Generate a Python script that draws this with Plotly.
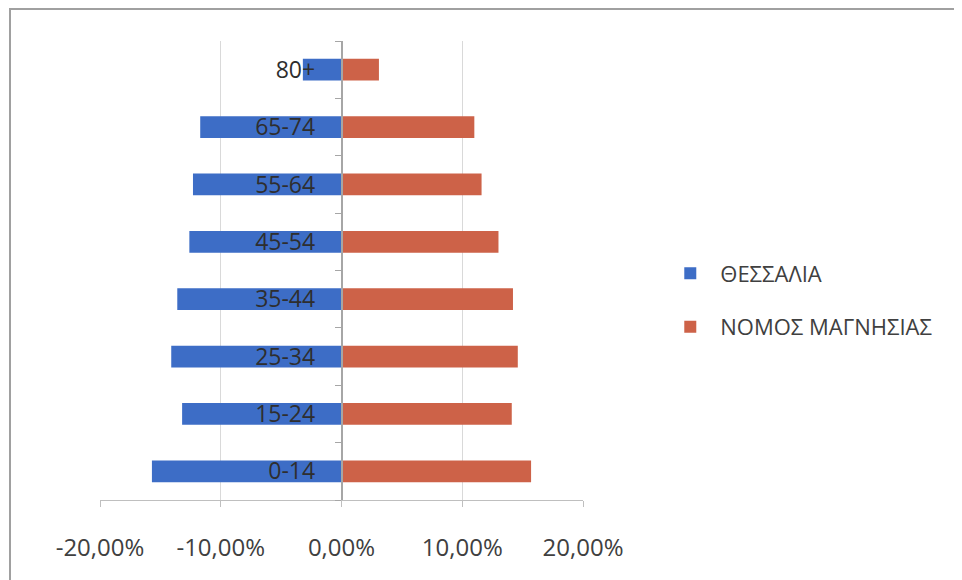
import plotly.graph_objects as go

categories = ["0-14", "15-24", "25-34", "35-44", "45-54", "55-64", "65-74", "80+"]
thessalia = [-0.157, -0.132, -0.141, -0.136, -0.126, -0.123, -0.117, -0.032]
magnisia = [0.157, 0.141, 0.146, 0.142, 0.130, 0.116, 0.110, 0.031]
x_ticks = [-0.2, -0.1, 0.0, 0.1, 0.2]
x_tick_labels = ["-20,00%", "-10,00%", "0,00%", "10,00%", "20,00%"]
series_names = ["ΘΕΣΣΑΛΙΑ", "ΝΟΜΟΣ ΜΑΓΝΗΣΙΑΣ"]

BLUE = "#3D6DC6"
RED = "#CD6248"
FONT = "Open Sans"
TEXT = "#404040"

fig = go.Figure()
fig.add_trace(go.Bar(y=categories, x=thessalia, orientation="h", name=series_names[0],
                     marker=dict(color=BLUE, line=dict(width=0)), legendgroup="a"))
fig.add_trace(go.Bar(y=categories, x=magnisia, orientation="h", name=series_names[1],
                     marker=dict(color=RED, line=dict(width=0)), legendgroup="b"))

# page has an 8px body margin; plot area target: x 100..583, y 41..500 (window px)
L, T, PW, PH = 92, 33, 483, 459
xr = [-0.2, 0.2]
fig.update_layout(
    width=962, height=580,
    margin=dict(l=L, r=962 - L - PW, t=T, b=580 - T - PH, autoexpand=False),
    paper_bgcolor="white", plot_bgcolor="white",
    barmode="relative", bargap=0.62,
    separators=",.",
    font=dict(family=FONT, color=TEXT),
    legend=dict(x=1.16, y=0.435, xanchor="left", yanchor="middle",
                font=dict(size=22, color=TEXT, family=FONT),
                tracegroupgap=22, itemwidth=50),
    xaxis=dict(range=xr, tickvals=x_ticks, ticktext=x_tick_labels,
               showgrid=True, gridcolor="#D9D9D9", gridwidth=1,
               zeroline=False, showline=True, linecolor="#BFBFBF",
               ticks="outside", ticklen=6, tickcolor="#BFBFBF",
               ticklabelstandoff=20, automargin=False,
               tickfont=dict(size=24, color=TEXT, family=FONT)),
    yaxis=dict(type="category", anchor="free", automargin=False,
               position=(0 - xr[0]) / (xr[1] - xr[0]),
               showline=True, linecolor="#A6A6A6", linewidth=1.5,
               ticks="outside", tickson="boundaries", ticklen=6, tickcolor="#A6A6A6",
               ticklabelstandoff=21, showgrid=False, zeroline=False,
               tickfont=dict(size=23, color="#2E2E2E", family=FONT)),
)

fig.add_shape(type="rect", xref="paper", yref="paper",
              x0=(10 - 8 - L) / PW, x1=(975 - 8 - L) / PW,
              y0=-(600 - 8 - T - PH) / PH, y1=1 + (T - 1) / PH,
              line=dict(color="#A0A0A0", width=2), layer="below")

fig.write_html("out.html")
